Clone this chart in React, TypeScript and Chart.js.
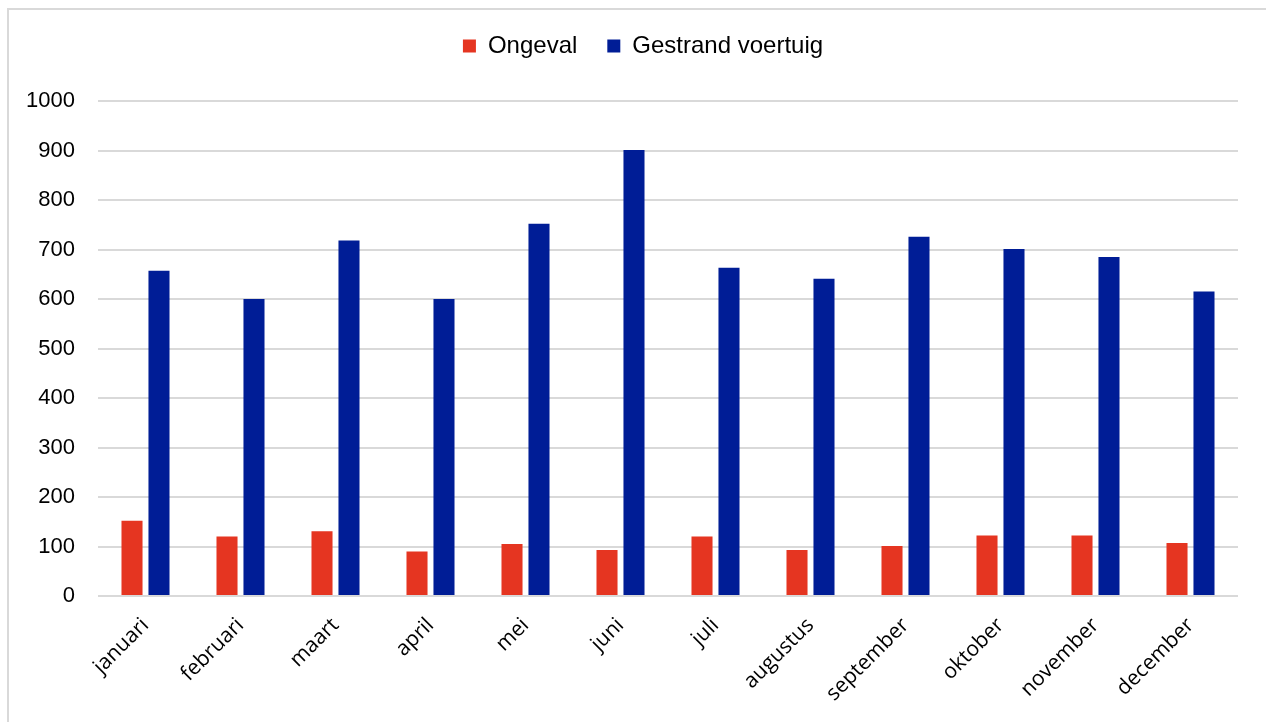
import React, { useEffect, useRef } from 'react';
import { Chart, registerables } from 'chart.js';

Chart.register(...registerables);

// Maandelijkse aantallen per type melding
const months = [
  'januari', 'februari', 'maart', 'april', 'mei', 'juni',
  'juli', 'augustus', 'september', 'oktober', 'november', 'december',
];
const ongeval = [152, 120, 131, 90, 105, 93, 120, 93, 101, 122, 122, 107];
const gestrandVoertuig = [657, 600, 718, 600, 752, 901, 663, 641, 726, 701, 685, 615];

const seriesNames = ['Ongeval', 'Gestrand voertuig'];
const seriesColors = ['#E53521', '#001D96'];

const yMin = 0;
const yMax = 1000;
const yStep = 100;

// Legenda: extra ruimte onder de legenda en een kleine horizontale verschuiving
const legendPlacement = {
  id: 'legendPlacement',
  beforeLayout(chart: any) {
    const legend = chart.legend;
    if (!legend || legend._gapPatched) return;
    const fit = legend.fit;
    legend.fit = function () {
      fit.call(this);
      this.height += 33;
    };
    legend._gapPatched = true;
  },
  afterLayout(chart: any) {
    const legend = chart.legend;
    if (!legend) return;
    legend.left += 24;
    legend.right += 24;
  },
};

export default function App() {
  const canvasRef = useRef<HTMLCanvasElement | null>(null);

  useEffect(() => {
    const canvas = canvasRef.current;
    if (!canvas) return;
    const chart = new Chart(canvas, {
      type: 'bar',
      data: {
        labels: months,
        datasets: [
          {
            label: seriesNames[0],
            data: ongeval,
            backgroundColor: seriesColors[0],
            categoryPercentage: 0.568,
            barPercentage: 0.78,
          },
          {
            label: seriesNames[1],
            data: gestrandVoertuig,
            backgroundColor: seriesColors[1],
            categoryPercentage: 0.568,
            barPercentage: 0.78,
          },
        ],
      },
      options: {
        animation: false,
        responsive: true,
        maintainAspectRatio: false,
        layout: { padding: { top: 4, left: 0, right: 28, bottom: 0 } },
        plugins: {
          legend: {
            position: 'top',
            labels: {
              boxWidth: 13,
              boxHeight: 13,
              padding: 30,
              color: '#000',
              font: { family: '"Liberation Sans", Arial, sans-serif', size: 24 },
            },
          },
          tooltip: { enabled: false },
        },
        scales: {
          x: {
            grid: { display: false, drawTicks: false },
            border: { display: false },
            ticks: {
              autoSkip: false,
              minRotation: 45,
              maxRotation: 45,
              padding: 17,
              color: '#000',
              font: { family: '"Open Sans", "Noto Sans", sans-serif', size: 21 },
            },
            afterFit(scale: any) {
              scale.height = 126;
            },
          },
          y: {
            min: yMin,
            max: yMax,
            grid: { color: '#d9d9d9', lineWidth: 2, drawTicks: false },
            border: { display: false },
            ticks: {
              stepSize: yStep,
              padding: 23,
              color: '#000',
              font: { family: '"Liberation Sans", Arial, sans-serif', size: 22 },
              callback: (value: any) => String(value),
            },
            afterFit(scale: any) {
              scale.width = 98;
            },
          },
        },
      },
      plugins: [legendPlacement],
    });
    return () => chart.destroy();
  }, []);

  return (
    <>
      <div
        style={{
          position: 'fixed',
          left: 7,
          top: 8,
          width: 1320,
          height: 800,
          border: '2px solid #d9d9d9',
          boxSizing: 'border-box',
          pointerEvents: 'none',
        }}
      />
      <div style={{ position: 'fixed', left: 0, top: 0, width: 1266, height: 722 }}>
        <canvas ref={canvasRef} />
      </div>
    </>
  );
}
